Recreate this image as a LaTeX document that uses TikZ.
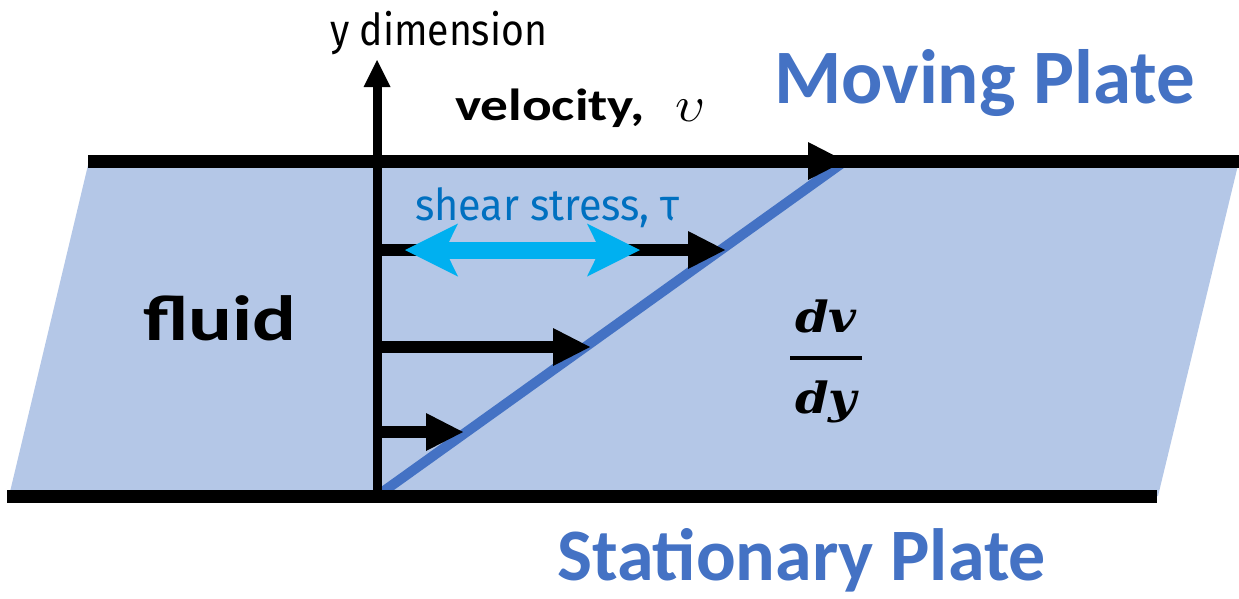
\documentclass[tikz,border=0pt]{standalone}
\usepackage{amsmath}
\usepackage{fontspec}
\setmainfont{Carlito}
\newfontfamily\labelfont{Fira Sans}
\newfontfamily\dvfont{DejaVu Serif}
\usetikzlibrary{arrows.meta}
\definecolor{fluidfill}{HTML}{B4C7E7}
\definecolor{plateblue}{HTML}{4472C4}
\definecolor{sheartext}{HTML}{0070C0}
\definecolor{sheararrow}{HTML}{00B0F0}
\tikzset{sheartip/.tip={Stealth[length=53pt,width=53pt,inset=13pt,line width=0pt]}}
\begin{document}
\begin{tikzpicture}[x=1pt,y=-1pt,
  txt/.style={inner sep=0pt,outer sep=0pt},
  plate/.style={line width=13pt,black},
  velarrow/.style={line width=12pt,black,-{Triangle[length=37pt,width=38pt,line width=0pt]}},
  axisarrow/.style={line width=9pt,black,-{Triangle[length=27pt,width=27pt,line width=0pt]}},
  profile/.style={line width=10pt,plateblue},
  sheardbl/.style={line width=17pt,sheararrow,{sheartip}-{sheartip}},
  bigblue/.style={txt,anchor=base west,text=plateblue},
  fracpart/.style={txt,anchor=base,font=\dvfont\bfseries\itshape\fontsize{43}{45}\selectfont}]
\useasboundingbox (0,0) rectangle (1239,598);
% coordinates
\coordinate (fTL) at (89,161);
\coordinate (fTR) at (1239,161);
\coordinate (fBR) at (1158,496);
\coordinate (fBL) at (9,496);
\coordinate (pTL) at (88,161);
\coordinate (pTR) at (1239,161);
\coordinate (pBL) at (7,496);
\coordinate (pBR) at (1157,496);
\coordinate (O) at (377,496);
\coordinate (axistop) at (377,60);
\coordinate (TL) at (377,161);
\coordinate (V) at (845,161);
\coordinate (r1s) at (377,250); \coordinate (r1e) at (725,250);
\coordinate (r2s) at (377,347); \coordinate (r2e) at (590,347);
\coordinate (r3s) at (377,432); \coordinate (r3e) at (463,432);
\coordinate (sl) at (405,250); \coordinate (sr) at (640,250);
\coordinate (barl) at (790,358); \coordinate (barr) at (862,358);
% fluid
\fill[fluidfill] (fTL) -- (fTR) -- (fBR) -- (fBL) -- cycle;
% profile
\draw[profile] (O) -- (V);
% velocity arrows
\draw[velarrow] (r1s) -- (r1e);
\draw[velarrow] (r2s) -- (r2e);
\draw[velarrow] (r3s) -- (r3e);
% shear arrow
\draw[sheardbl] (sl) -- (sr);
% axis
\draw[axisarrow] (O) -- (axistop);
% plates
\draw[plate] (pTL) -- (pTR);
\draw[plate] (pBL) -- (pBR);
\draw[velarrow] (TL) -- (V);
% texts
\node[txt,anchor=base west] (ydim) at (330,45) {\labelfont\fontsize{44}{50}\selectfont\scalebox{0.89}[1]{y dimension}};
\node[txt,anchor=base west] (vel) at (455,120) {\scalebox{1.23}[1]{\fontsize{45}{50}\selectfont\bfseries velocity,}};
\node[txt,anchor=base west] (ups) at (675,121) {\scalebox{5.2}[5]{$\upsilon$}};
\node[bigblue] (moving) at (774,103) {\fontsize{77}{80}\selectfont\bfseries Moving Plate};
\node[bigblue] (stationary) at (557,580) {\fontsize{74}{80}\selectfont\bfseries Stationary Plate};
\node[txt,anchor=base west] (fluid) at (143,340) {\scalebox{1.28}[1]{\fontsize{64}{70}\selectfont\bfseries fluid}};
\node[txt,anchor=base west,text=sheartext] (shear) at (415,220) {\labelfont\fontsize{44}{50}\selectfont\scalebox{0.94}[1]{shear stress, τ}};
\node[fracpart] (dv) at (826,332) {\scalebox{1.12}[1]{dv}};
\node[fracpart] (dy) at (826,413) {\scalebox{1.12}[1]{dy}};
\draw[line width=4pt] (barl) -- (barr);
\end{tikzpicture}
\end{document}
